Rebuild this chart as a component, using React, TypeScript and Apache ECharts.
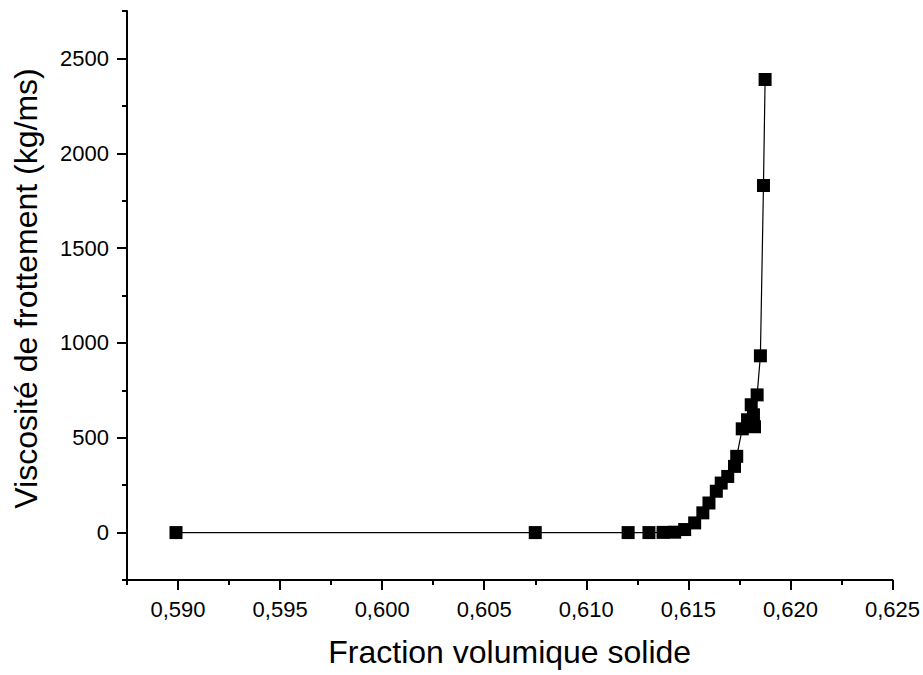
import React, { useEffect, useRef } from "react";
import * as echarts from "echarts";

const fractionValues = [
  0.5899, 0.6075, 0.61205, 0.61307, 0.61376, 0.61433, 0.61482, 0.61531,
  0.61571, 0.61601, 0.61637, 0.61661, 0.61693, 0.61726, 0.61737, 0.61764,
  0.6179, 0.61808, 0.61819, 0.61824, 0.61837, 0.61853, 0.61868, 0.61876,
];
const viscosityValues = [
  0, 0, 0, 0, 1, 2, 16, 51, 104, 156, 218, 261, 296, 349, 402, 547, 595, 674,
  621, 558, 726, 932, 1830, 2389,
];
const xMajorTicks = [0.59, 0.595, 0.6, 0.605, 0.61, 0.615, 0.62, 0.625];
const yMajorTicks = [0, 500, 1000, 1500, 2000, 2500];

const X_MIN = 0.5875;
const X_MAX = 0.625;
const Y_MIN = -250;
const Y_MAX = 2750;

export default function App() {
  const ref = useRef<HTMLDivElement>(null);
  useEffect(() => {
    if (!ref.current) return;
    const chart = echarts.init(ref.current, null, { renderer: "svg" });
    const font = "'Liberation Sans', Arial, sans-serif";
    const lineStyle = { color: "#000", width: 2 };
    chart.setOption({
      animation: false,
      backgroundColor: "#fff",
      grid: { left: 127, right: 30, top: 11, bottom: 95, containLabel: false },
      xAxis: [
        {
          type: "value",
          min: X_MIN,
          max: X_MAX,
          position: "bottom",
          name: "Fraction volumique solide",
          nameLocation: "middle",
          nameGap: 56,
          nameTextStyle: { fontFamily: font, fontSize: 32, color: "#000" },
          axisLine: { show: true, onZero: false, lineStyle },
          axisTick: {
            show: true,
            inside: false,
            length: 10,
            lineStyle,
            customValues: xMajorTicks,
          },
          axisLabel: {
            show: true,
            margin: 18,
            fontFamily: font,
            fontSize: 22,
            color: "#000",
            customValues: xMajorTicks,
            formatter: (v: number) => v.toFixed(3).replace(".", ","),
          },
          splitLine: { show: false },
        },
        {
          type: "value",
          min: X_MIN,
          max: X_MAX,
          interval: 0.0025,
          position: "bottom",
          axisLine: { show: false, onZero: false },
          axisTick: { show: true, inside: false, length: 5, lineStyle },
          axisLabel: { show: false },
          splitLine: { show: false },
        },
      ],
      yAxis: [
        {
          type: "value",
          min: Y_MIN,
          max: Y_MAX,
          position: "left",
          name: "Viscosité de frottement (kg/ms)",
          nameLocation: "middle",
          nameGap: 85,
          nameTextStyle: {
            fontFamily: font,
            fontSize: 32,
            color: "#000",
            padding: [0, 0, 0, 14],
          },
          axisLine: { show: true, onZero: false, lineStyle },
          axisTick: {
            show: true,
            inside: false,
            length: 10,
            lineStyle,
            customValues: yMajorTicks,
          },
          axisLabel: {
            show: true,
            margin: 18,
            fontFamily: font,
            fontSize: 22,
            color: "#000",
            customValues: yMajorTicks,
            formatter: (v: number) => String(v),
          },
          splitLine: { show: false },
        },
        {
          type: "value",
          min: Y_MIN,
          max: Y_MAX,
          interval: 250,
          position: "left",
          axisLine: { show: false, onZero: false },
          axisTick: { show: true, inside: false, length: 5, lineStyle },
          axisLabel: { show: false },
          splitLine: { show: false },
        },
      ],
      series: [
        {
          type: "line",
          xAxisIndex: 0,
          yAxisIndex: 0,
          data: fractionValues.map((x, i) => [x, viscosityValues[i]]),
          symbol: "rect",
          symbolSize: 13,
          itemStyle: { color: "#000" },
          lineStyle: { color: "#000", width: 1.2 },
          clip: false,
        },
      ],
    });
    return () => chart.dispose();
  }, []);
  return (
    <div
      ref={ref}
      style={{ position: "fixed", left: 0, top: 0, width: 923, height: 675 }}
    />
  );
}
